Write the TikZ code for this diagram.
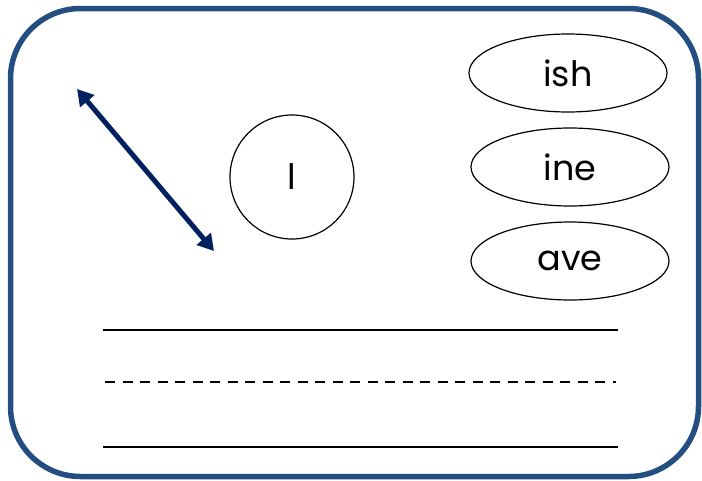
\documentclass[tikz,border=0pt]{standalone}
\usepackage{fontspec}
\setmainfont{Poppins}
\usetikzlibrary{shapes.geometric,arrows.meta}
\definecolor{frameblue}{RGB}{36,78,130}
\definecolor{navy}{RGB}{0,32,96}
\tikzset{
	suffix/.style={draw,ellipse,line width=1.2pt,minimum width=198pt,minimum height=78pt,inner sep=0pt,font=\fontsize{35}{35}\selectfont},
	onset/.style={draw,circle,line width=1.2pt,minimum size=124pt,inner sep=0pt,font=\fontsize{35}{35}\selectfont},
	writeline/.style={line width=2pt}
}
\begin{document}
\begin{tikzpicture}[x=1pt,y=-1pt]
		\useasboundingbox (0,0) rectangle (702,480);
		\draw[frameblue,line width=5.5pt,rounded corners=70pt] (10.5,8.5) rectangle (698.5,476.5);
		\coordinate (tipA) at (77,89);
		\coordinate (tipB) at (214,251);
		\draw[navy,line width=5pt,{Triangle[length=16pt,width=18pt]}-{Triangle[length=16pt,width=18pt]}] (tipA) -- (tipB);
		\node[onset] (l) at (292,177) {l};
		\node[suffix] (ish) at (568,73) {ish};
		\node[suffix] (ine) at (570,167) {ine};
		\node[suffix] (ave) at (570,261) {ave};
		\coordinate (topL) at (103,330);
		\coordinate (topR) at (618,330);
		\coordinate (midL) at (105,382);
		\coordinate (midR) at (616,382);
		\coordinate (botL) at (103,447);
		\coordinate (botR) at (618,447);
		\draw[writeline] (topL) -- (topR);
		\draw[writeline,dash pattern=on 10pt off 7.5pt] (midL) -- (midR);
		\draw[writeline] (botL) -- (botR);
	\end{tikzpicture}
\end{document}
